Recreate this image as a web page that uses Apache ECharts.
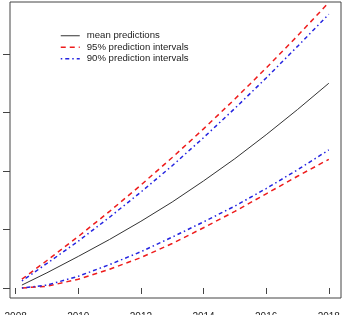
<!DOCTYPE html>
<html>
<head>
<meta charset="utf-8">
<script src="https://cdn.jsdelivr.net/npm/echarts@6/dist/echarts.min.js"></script>
<style>
    html, body { margin: 0; padding: 0; background: #fff; }
    #chart { width: 345px; height: 315px; }
</style>
</head>
<body>
<div id="chart"></div>
<script>
// years along the x axis
var years = [2008.2, 2009, 2010, 2011, 2012, 2013, 2014, 2015, 2016, 2017, 2018];
var xTicks = [2008, 2010, 2012, 2014, 2016, 2018];
var yTicks = [0, 1, 2, 3, 4];

var meanPred = [0.05, 0.26, 0.54, 0.83, 1.14, 1.47, 1.83, 2.21, 2.62, 3.05, 3.50];
var upper95 = [0.15, 0.47, 0.88, 1.31, 1.76, 2.23, 2.72, 3.23, 3.76, 4.31, 4.88];
var lower95 = [0.00, 0.03, 0.15, 0.32, 0.52, 0.76, 1.03, 1.31, 1.61, 1.91, 2.20];
var upper90 = [0.12, 0.42, 0.80, 1.21, 1.64, 2.09, 2.57, 3.07, 3.59, 4.13, 4.68];
var lower90 = [0.00, 0.05, 0.20, 0.40, 0.62, 0.87, 1.13, 1.40, 1.70, 2.02, 2.36];

function pairs(vals) {
    return years.map(function (x, i) { return [x, vals[i]]; });
}

var chart = echarts.init(document.getElementById('chart'));
var font = 'Liberation Sans, Arial, Helvetica, sans-serif';
var dash95 = [5, 4];
var dash90 = [1.5, 3, 4, 3];

var option = {
    backgroundColor: '#fff',
    animation: false,
    textStyle: { fontFamily: font },
    grid: {
        left: 10, right: 4, top: 2, bottom: 17,
        outerBoundsMode: 'none',
        show: true,
        borderColor: '#444',
        borderWidth: 1
    },
    legend: {
        orient: 'vertical',
        left: 55,
        top: 25,
        itemWidth: 19,
        itemHeight: 8,
        itemGap: 0,
        itemStyle: { opacity: 0 }, // 图例只画线，不画圆点
        textStyle: {
            fontFamily: font,
            fontSize: 9.6,
            lineHeight: 11.5,
            color: '#222',
            padding: [0, 0, 0, 2]
        },
        data: [
            { name: 'mean predictions', lineStyle: { width: 1 } },
            { name: '95% prediction intervals', lineStyle: { width: 1.5 } },
            { name: '90% prediction intervals', lineStyle: { width: 1.5 } }
        ]
    },
    xAxis: {
        type: 'value',
        min: 2007.82,
        max: 2018.39,
        axisLine: { show: false },
        splitLine: { show: false },
        axisTick: {
            show: true,
            length: 6,
            customValues: xTicks,
            lineStyle: { color: '#444', width: 1 }
        },
        axisLabel: {
            show: true,
            margin: 14,
            fontSize: 10,
            color: '#222',
            customValues: xTicks,
            formatter: function (v) { return String(Math.round(v)); }
        }
    },
    yAxis: {
        type: 'value',
        min: -0.171,
        max: 4.889,
        axisLine: { show: false },
        splitLine: { show: false },
        axisTick: {
            show: true,
            length: 7,
            customValues: yTicks,
            lineStyle: { color: '#444', width: 1 }
        },
        axisLabel: { show: false }
    },
    series: [{
        name: 'mean predictions',
        type: 'line',
        symbol: 'none',
        lineStyle: { color: '#333', width: 1 },
        itemStyle: { color: '#333' },
        data: pairs(meanPred)
    }, {
        name: '95% prediction intervals',
        type: 'line',
        symbol: 'none',
        lineStyle: { color: '#ee1c1c', width: 1.5, type: dash95 },
        itemStyle: { color: '#ee1c1c' },
        data: pairs(upper95)
    }, {
        name: '95% prediction intervals',
        type: 'line',
        symbol: 'none',
        lineStyle: { color: '#ee1c1c', width: 1.5, type: dash95 },
        itemStyle: { color: '#ee1c1c' },
        data: pairs(lower95)
    }, {
        name: '90% prediction intervals',
        type: 'line',
        symbol: 'none',
        lineStyle: { color: '#2424e0', width: 1.5, type: dash90 },
        itemStyle: { color: '#2424e0' },
        data: pairs(upper90)
    }, {
        name: '90% prediction intervals',
        type: 'line',
        symbol: 'none',
        lineStyle: { color: '#2424e0', width: 1.5, type: dash90 },
        itemStyle: { color: '#2424e0' },
        data: pairs(lower90)
    }]
};
chart.setOption(option);
</script>
</body>
</html>
